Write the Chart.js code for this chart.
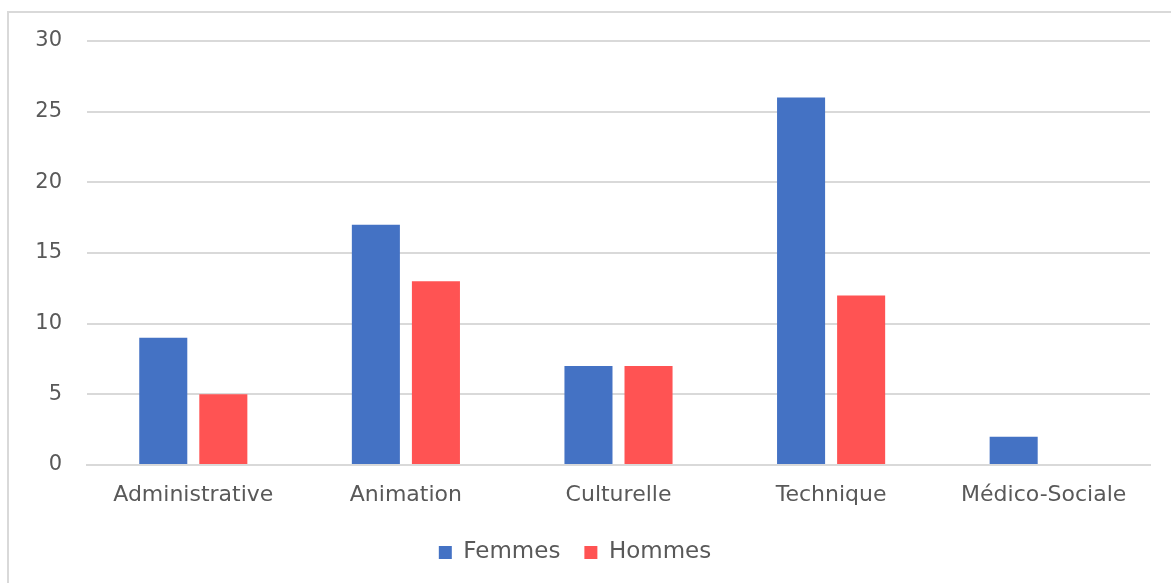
<!DOCTYPE html>
<html>
<head>
<meta charset="utf-8">
<script src="https://cdn.jsdelivr.net/npm/chart.js@4/dist/chart.umd.min.js"></script>
<style>
  html, body { margin: 0; padding: 0; background: #fff; overflow: hidden; }
  #frame { position: absolute; left: 7px; top: 11px; width: 1300px; height: 800px;
           border: 2px solid #d9d9d9; box-sizing: border-box; }
  #wrap { position: absolute; left: 0; top: 0; width: 1171px; height: 583px; }
</style>
</head>
<body>
<div id="frame"></div>
<div id="wrap"><canvas id="chart"></canvas></div>
<script>
const categories = ['Administrative', 'Animation', 'Culturelle', 'Technique', 'Médico-Sociale'];
const femmes = [9, 17, 7, 26, 2];
const hommes = [5, 13, 7, 12, 0];
const yTicks = [0, 5, 10, 15, 20, 25, 30];

const textColor = '#595959';
const gridColor = '#d9d9d9';
const fontFamily = '"DejaVu Sans", sans-serif';

new Chart(document.getElementById('chart'), {
  type: 'bar',
  data: {
    labels: categories,
    datasets: [
      { label: 'Femmes', data: femmes, backgroundColor: '#4472c4',
        categoryPercentage: 0.565, barPercentage: 0.8 },
      { label: 'Hommes', data: hommes, backgroundColor: '#ff5353',
        categoryPercentage: 0.565, barPercentage: 0.8 }
    ]
  },
  options: {
    responsive: true,
    maintainAspectRatio: false,
    animation: false,
    layout: { padding: { left: 0, right: 21, top: 41, bottom: 9 } },
    scales: {
      x: {
        grid: { display: false, drawTicks: false },
        border: { color: gridColor, width: 2 },
        ticks: { color: textColor, font: { family: fontFamily, size: 22 }, padding: 17, maxRotation: 0 },
        afterFit: (axis) => { axis.height = 52; }
      },
      y: {
        min: 0, max: 30,
        afterBuildTicks: (axis) => { axis.ticks = yTicks.map(v => ({ value: v })); },
        grid: { color: gridColor, lineWidth: 2, drawTicks: false },
        border: { display: false },
        ticks: { color: textColor, font: { family: fontFamily, size: 21 }, padding: 25 },
        afterFit: (axis) => { axis.width = 87; }
      }
    },
    plugins: {
      legend: {
        position: 'bottom',
        labels: { color: textColor, font: { family: fontFamily, size: 23 },
                  boxWidth: 13, boxHeight: 13, padding: 24 }
      },
      tooltip: { enabled: false }
    }
  }
});
</script>
</body>
</html>
